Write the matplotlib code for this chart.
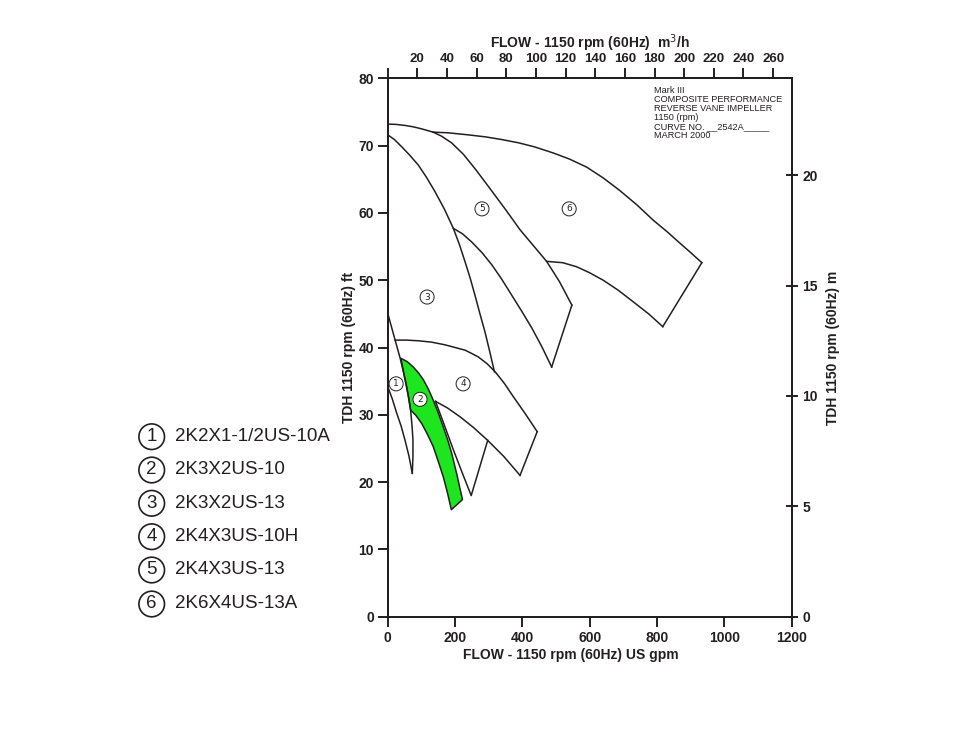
import matplotlib
matplotlib.use('Agg')
import matplotlib.pyplot as plt
from matplotlib.patches import Circle, Polygon

# pump curve outlines, flow in US gpm, head in ft
top_flow = [0, 25, 51, 75, 100, 135]
top_head = [73.2, 73.15, 73.0, 72.8, 72.5, 72.0]

p5_outer_flow = [135, 160, 190, 225, 262, 304, 350, 393, 435, 472, 510, 547]
p5_outer_head = [72.0, 71.4, 70.4, 68.7, 66.4, 63.6, 60.5, 57.5, 55.0, 52.8, 49.8, 46.3]
p5_edge_flow = [547, 487]
p5_edge_head = [46.3, 37.1]
p5_inner_flow = [487, 458, 428, 398, 368, 338, 309, 280, 249, 222, 195]
p5_inner_head = [37.1, 40.1, 42.9, 45.4, 47.8, 50.2, 52.3, 54.1, 55.7, 56.9, 57.7]

p6_outer_flow = [135, 180, 239, 290, 339, 390, 437, 492, 540, 591, 640, 690, 740, 789, 830, 868, 900, 933]
p6_outer_head = [72.0, 71.9, 71.6, 71.3, 70.9, 70.4, 69.8, 68.9, 68.0, 66.8, 65.2, 63.3, 61.2,
                 58.9, 57.2, 55.5, 54.1, 52.6]
p6_edge_flow = [933, 817]
p6_edge_head = [52.6, 43.1]
p6_inner_flow = [817, 775, 729, 685, 640, 600, 561, 520, 472]
p6_inner_head = [43.1, 45.0, 46.8, 48.5, 50.0, 51.1, 52.0, 52.6, 52.8]

p3_outer_flow = [0, 20, 42, 65, 91, 115, 140, 168, 195, 213, 230, 245, 259, 274, 289, 303, 317]
p3_outer_head = [71.6, 70.9, 69.8, 68.6, 67.1, 65.3, 63.2, 60.6, 57.7, 55.3, 52.7, 50.3, 47.8,
                 45.0, 42.3, 39.4, 36.4]

p4_top_flow = [22, 55, 91, 130, 170, 200, 230, 250, 269, 295, 319, 346, 373, 408, 444]
p4_top_head = [41.1, 41.1, 41.0, 40.8, 40.4, 40.0, 39.6, 39.1, 38.6, 37.6, 36.4, 34.7, 32.7, 30.2, 27.5]
p4_edge_flow = [444, 393]
p4_edge_head = [27.5, 21.0]
p4_inner_flow = [393, 345, 297, 255, 215, 178, 142]
p4_inner_head = [21.0, 23.8, 26.2, 28.1, 29.7, 31.0, 32.0]
p4_v_flow = [142, 168, 195, 222, 248, 297]
p4_v_head = [32.0, 28.5, 24.8, 21.3, 18.0, 26.2]

p1_max_flow = [0, 11, 22, 37, 47, 56, 63, 68, 72, 75, 75, 73]
p1_max_head = [45.1, 43.1, 41.1, 38.4, 36.3, 34.2, 32.4, 30.7, 28.5, 26.3, 23.8, 21.3]
p1_min_flow = [0, 14, 27, 40, 51, 63, 73]
p1_min_head = [34.2, 32.3, 30.2, 28.3, 26.3, 23.9, 21.3]

p2_flow = [39, 58, 76, 92, 106, 121, 135, 150, 165, 178, 190, 206, 222,
           189, 178, 165, 150, 135, 118, 101, 84, 68, 62, 56, 47]
p2_head = [38.4, 37.9, 37.1, 36.2, 35.2, 33.8, 32.2, 30.3, 28.2, 26.3, 24.3, 21.0, 17.4,
           15.9, 18.3, 20.8, 23.1, 25.3, 27.1, 28.7, 29.9, 30.7, 32.5, 34.2, 36.4]

tag_nums = ['1', '2', '3', '4', '5', '6']
tag_flow = [25, 96, 117, 224, 280, 539]
tag_head = [34.6, 32.3, 47.5, 34.6, 60.6, 60.6]

models = ['2K2X1-1/2US-10A', '2K3X2US-10', '2K3X2US-13',
          '2K4X3US-10H', '2K4X3US-13', '2K6X4US-13A']

x_ticks = [0, 200, 400, 600, 800, 1000, 1200]
y_ticks = [0, 10, 20, 30, 40, 50, 60, 70, 80]
m3h_ticks = [0, 20, 40, 60, 80, 100, 120, 140, 160, 180, 200, 220, 240, 260]
m_ticks = [0, 5, 10, 15, 20]

GPM_PER_M3H = 4.4029
M_PER_FT = 0.3048

ink = '#231f20'
tick_font = ['Liberation Sans Narrow', 'Liberation Sans', 'DejaVu Sans']
plain_font = ['Liberation Sans', 'DejaVu Sans']

fig = plt.figure(figsize=(9.7, 7.36), dpi=100)
ax = fig.add_axes([0.3997, 0.1621, 0.4165, 0.7315])
ax.set_xlim(0, 1200)
ax.set_ylim(0, 80)

lw = 1.1
segs = [(top_flow, top_head), (p5_outer_flow, p5_outer_head), (p5_edge_flow, p5_edge_head),
        (p5_inner_flow, p5_inner_head), (p6_outer_flow, p6_outer_head),
        (p6_edge_flow, p6_edge_head), (p6_inner_flow, p6_inner_head),
        (p3_outer_flow, p3_outer_head), (p4_top_flow, p4_top_head),
        (p4_edge_flow, p4_edge_head), (p4_inner_flow, p4_inner_head),
        (p4_v_flow, p4_v_head), (p1_max_flow, p1_max_head), (p1_min_flow, p1_min_head)]
for fx, hy in segs:
    ax.plot(fx, hy, color=ink, lw=lw, solid_joinstyle='round')

ax.add_patch(Polygon(list(zip(p2_flow, p2_head)), closed=True, fc='#1ee61e', ec=ink, lw=lw,
                     joinstyle='round'))

for n, fx, hy in zip(tag_nums, tag_flow, tag_head):
    ax.text(fx, hy, n, fontsize=6.5, ha='center', va='center', color=ink,
            bbox=dict(boxstyle='circle,pad=0.28', fc='white', ec=ink, lw=0.7))

# note block
ax.text(791, 78.9, 'Mark III\nCOMPOSITE PERFORMANCE\nREVERSE VANE IMPELLER\n1150 (rpm)\n'
        'CURVE NO. __2542A_____\nMARCH 2000', fontsize=6.6, linespacing=1.0,
        ha='left', va='top', color=ink, family=plain_font)

for s in ax.spines.values():
    s.set_linewidth(1.3)
    s.set_color(ink)

ax.set_xticks(x_ticks)
ax.set_yticks(y_ticks)
ax.tick_params(direction='out', length=7, width=1.4, pad=3, colors=ink, labelsize=10)
ax.tick_params(axis='x', length=7.5)
for lab in ax.get_xticklabels() + ax.get_yticklabels():
    lab.set_family(tick_font)
    lab.set_fontweight('bold')

ax.set_xlabel('FLOW - 1150 rpm (60Hz) US gpm', fontsize=10, fontweight='bold',
              family=tick_font, color=ink)
ax.xaxis.set_label_coords(0.454, -0.058)
ax.set_ylabel('TDH 1150 rpm (60Hz) ft', fontsize=10, fontweight='bold',
              family=tick_font, color=ink)
ax.yaxis.set_label_coords(-0.078, 0.5)

# metric axes
axt = ax.twiny()
axt.set_xlim(0, 1200 / GPM_PER_M3H)
axt.set_xticks(m3h_ticks)
axt.set_xticklabels([''] + [str(v) for v in m3h_ticks[1:]])
axt.tick_params(direction='out', length=7.5, width=1.4, pad=2, colors=ink, labelsize=9.5)
for lab in axt.get_xticklabels():
    lab.set_family(tick_font)
    lab.set_fontweight('bold')
axt.set_xlabel('FLOW - 1150 rpm (60Hz)  m$^3$/h', fontsize=10, fontweight='bold',
               family=tick_font, color=ink, labelpad=4)

axr = ax.twinx()
axr.set_ylim(0, 80 * M_PER_FT)
axr.set_yticks(m_ticks)
axr.tick_params(direction='inout', length=9, width=1.4, pad=3, colors=ink, labelsize=10)
for lab in axr.get_yticklabels():
    lab.set_family(tick_font)
    lab.set_fontweight('bold')
axr.set_ylabel('TDH 1150 rpm (60Hz) m', fontsize=10, fontweight='bold',
               family=tick_font, color=ink, rotation=90, labelpad=6)
for a in (axt, axr):
    for s in a.spines.values():
        s.set_linewidth(1.3)
        s.set_color(ink)

# model key on the left
row_y = [436.7, 470, 503.3, 536.7, 570, 604]
for n, name, py in zip(tag_nums, models, row_y):
    yi = (736 - py) / 100
    fig.add_artist(Circle((1.517, yi), 0.128, transform=fig.dpi_scale_trans,
                          fc='none', ec=ink, lw=1.2))
    fig.text(1.517 / 9.7, yi / 7.36, n, fontsize=13.5, ha='center', va='center',
             color=ink, family=plain_font)
    fig.text(1.745 / 9.7, yi / 7.36, name, fontsize=13.5, ha='left', va='center',
             color=ink, family=plain_font)

fig.savefig('out.png', dpi=100)
